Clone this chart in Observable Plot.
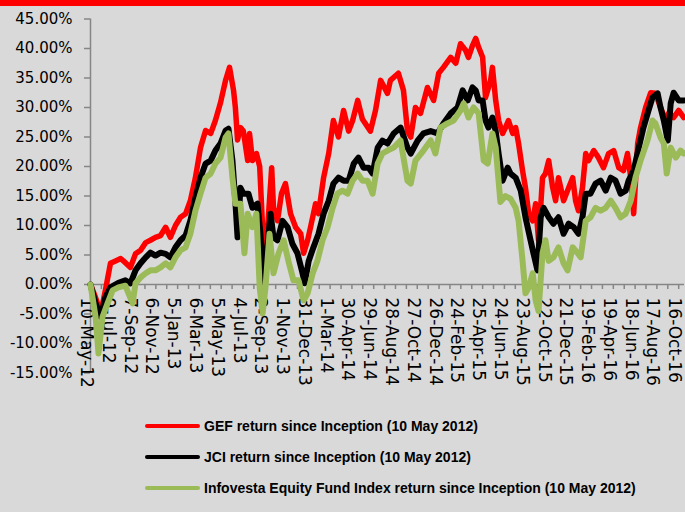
<!DOCTYPE html>
<html>
<head>
<meta charset="utf-8">
<script src="https://cdn.jsdelivr.net/npm/d3@7"></script>
<script src="https://cdn.jsdelivr.net/npm/@observablehq/plot@0.6"></script>
<style>
  html, body { margin: 0; padding: 0; background: #d9d9d9; }
  #wrap { position: relative; width: 685px; height: 512px; overflow: hidden; background: #d9d9d9; }
  #topbar { position: absolute; left: 0; top: 0; width: 685px; height: 6px; background: #ff0000; }
  #chart { position: absolute; left: 0; top: 0; }
  .leg { position: absolute; left: 145px; height: 20px; display: flex; align-items: center;
         font-family: "Liberation Sans", Arial, sans-serif; font-weight: bold; font-size: 14px; color: #000; white-space: nowrap; }
  .sw { width: 55px; height: 4px; border-radius: 2px; margin-right: 4px; }
</style>
</head>
<body>
<div id="wrap">
  <div id="chart"></div>
  <div id="topbar"></div>
  <div id="legend"></div>
</div>
<script>
// ---- Data (days since inception 10 May 2012, return %) ----
const seriesNames = [
  "GEF return since Inception (10 May 2012)",
  "JCI return since Inception (10 May 2012)",
  "Infovesta Equity Fund Index return since Inception (10 May 2012)"
];
const seriesColors = ["#ff0000", "#000000", "#9bbb59"];

const gefSeries = [
  [0,0],[14,-2.2],[28,-4.9],[41,-1],[55,3.6],[69,4],[83,4.4],[96,3.7],[110,2.9],[124,5.2],
  [138,5.8],[152,7.1],[165,7.5],[179,8],[193,8.3],[207,9.7],[220,8],[234,10],[248,11.4],[262,12],
  [275,14.2],[289,18.1],[303,23.2],[317,26.1],[331,25.6],[344,27.8],[358,30.8],[372,34.6],[383,36.8],[394,32.9],
  [399,30],[405,24.5],[413,26.6],[421,26],[433,21],[438,25.6],[446,21],[457,22.2],[466,20],[474,9.7],
  [477,3.6],[488,9.7],[499,19.8],[504,13],[515,10.8],[526,15.4],[537,17.1],[551,12],[565,9.7],[579,8.6],
  [587,5.3],[598,7.5],[606,9.7],[620,13.7],[628,12],[642,18.1],[656,22.2],[669,27.8],[683,25],[697,29.5],
  [711,26],[722,27.8],[736,31.2],[749,28],[771,26],[785,29.5],[799,34.6],[818,32.4],[826,34.6],[848,35.8],
  [862,32.9],[873,26],[882,25],[895,30],[909,29],[928,33.4],[945,31.2],[959,35.8],[972,36.8],[992,38.5],
  [1006,37.5],[1019,40.8],[1033,39.7],[1041,38.5],[1052,40.5],[1061,41.7],[1069,40.2],[1080,38.5],[1088,31.7],[1102,34.6],
  [1107,36.8],[1116,31.2],[1124,27.8],[1135,25.6],[1143,26.6],[1151,27.8],[1163,25.6],[1171,26.6],[1179,23.9],[1190,19.3],
  [1198,16.4],[1207,12],[1218,10.8],[1226,13.7],[1234,7.5],[1245,18.1],[1253,18.8],[1262,21],[1273,16.4],[1281,14.2],
  [1289,18.1],[1303,14.2],[1317,16.4],[1328,18.1],[1336,14.2],[1344,12.5],[1355,16.4],[1364,22.2],[1372,21],[1386,22.7],
  [1399,21.5],[1413,19.8],[1427,22.2],[1441,22.7],[1455,19.8],[1468,19.3],[1479,22.2],[1488,18.1],[1496,12],[1507,23.9],
  [1515,26.6],[1529,30],[1543,32.5],[1556,32.4],[1570,30],[1584,27.8],[1592,29],[1606,28.3],[1620,29.5],[1634,28.3]
];

const jciSeries = [
  [0,0],[14,-3.2],[28,-5.5],[41,-2.2],[55,-0.5],[77,0.3],[96,0.7],[110,0.2],[124,2.4],[138,3.6],
  [152,4.6],[165,5.4],[179,4.9],[193,5.4],[207,5.2],[220,4.6],[234,6.3],[248,7.5],[262,8.3],[275,10.8],
  [289,14.7],[303,18.1],[317,20.5],[331,21],[344,22.7],[358,23.9],[372,26.1],[380,26.4],[391,21],[399,14],
  [405,8],[413,16.4],[421,15.4],[435,15.4],[446,13],[460,13.7],[468,8.6],[477,0.2],[485,5.3],[496,12],
  [504,8],[515,7.5],[529,10.8],[543,9.7],[556,6.9],[570,5.3],[584,1.9],[590,0.2],[601,4],[614,6.3],
  [628,8.6],[642,12],[656,14.2],[669,17.1],[683,18.1],[697,17.6],[711,17.6],[725,20.5],[738,21.5],[752,19.8],
  [766,19.8],[777,18.8],[791,23.2],[804,24.4],[818,23.9],[835,25.6],[854,26.6],[873,23.2],[882,22.2],[901,24.4],
  [917,25.6],[937,26],[956,25.6],[972,27.3],[992,29],[1011,30],[1025,32.9],[1039,31.2],[1052,33.4],[1061,32.9],
  [1069,31.2],[1080,31.2],[1088,27.8],[1096,26.6],[1107,28.3],[1116,26],[1124,22.2],[1135,17.6],[1149,19.8],[1157,18.8],
  [1171,18.1],[1185,15.9],[1198,11.4],[1212,7.5],[1220,5.3],[1231,2.4],[1240,11.4],[1248,13],[1262,11.4],[1275,10.3],
  [1289,11.4],[1303,8.6],[1317,10.3],[1331,9.7],[1344,8.6],[1355,11.4],[1364,15.4],[1377,15.4],[1391,17.1],[1405,17.6],
  [1419,15.9],[1433,18.1],[1446,17.6],[1460,15.4],[1474,15.9],[1482,17.6],[1496,19.3],[1510,23.2],[1523,26.6],[1537,29.5],
  [1548,31.7],[1562,32.4],[1570,30],[1579,27.8],[1590,24.4],[1598,30.7],[1606,32.5],[1620,31.2],[1634,31.2]
];

const infovestaSeries = [
  [0,0],[14,-5.5],[22,-11.7],[33,-5.5],[47,-3.2],[61,-1],[77,-0.5],[96,-0.2],[116,-3.2],[124,0.2],
  [138,1.2],[152,1.9],[165,2.4],[179,2.4],[193,2.9],[207,3.6],[220,2.9],[234,4.6],[248,5.8],[262,6.3],
  [275,8.6],[289,12.5],[303,15.4],[317,18.1],[331,18.8],[344,20.5],[358,21.5],[372,24.9],[380,25.6],[391,18.1],
  [399,13.7],[413,13.7],[424,5.3],[433,12],[446,9.7],[457,12],[466,-0.5],[474,-4.9],[482,-0.5],[493,8.6],
  [504,1.9],[518,5.3],[532,7.5],[545,4],[559,0.7],[573,0.7],[587,-2.7],[598,-1.5],[612,1.9],[625,4],
  [639,7.5],[653,9.7],[667,13],[680,15.4],[694,15.9],[708,15.4],[722,17.6],[736,18.8],[749,17.6],[763,17.6],
  [777,15.4],[791,20.5],[804,22.2],[818,22.7],[835,23.2],[854,24.4],[873,17.6],[882,17.1],[895,21],[917,22.7],
  [937,24.4],[950,22.2],[964,26.6],[983,27.3],[1000,27.8],[1019,29.5],[1028,30.7],[1041,28.3],[1055,30],[1069,29],
  [1083,21],[1094,20.5],[1107,25.6],[1116,23.2],[1129,14],[1143,15],[1157,14.5],[1171,13],[1179,10.8],[1190,4],
  [1198,-1.5],[1207,-0.5],[1218,1.9],[1226,-2.7],[1234,-4.5],[1245,5.3],[1253,7.5],[1262,4],[1275,4.6],[1289,6.3],
  [1303,3.6],[1314,2.4],[1328,6.3],[1342,5.3],[1350,4.6],[1364,10.8],[1377,11.4],[1391,13],[1405,12.5],[1419,13],
  [1433,14.2],[1446,13],[1460,11.4],[1474,12],[1488,14.2],[1501,18.1],[1515,21],[1534,24.4],[1548,27.8],[1556,27.3],
  [1570,24.9],[1579,23.9],[1587,18.8],[1598,23.2],[1612,21.5],[1625,22.7],[1634,22.2]
];

const xTickLabels = [
  "10-May-12","9-Jul-12","7-Sep-12","6-Nov-12","5-Jan-13","6-Mar-13","5-May-13","4-Jul-13",
  "2-Sep-13","1-Nov-13","31-Dec-13","1-Mar-14","30-Apr-14","29-Jun-14","28-Aug-14","27-Oct-14",
  "26-Dec-14","24-Feb-15","25-Apr-15","24-Jun-15","23-Aug-15","22-Oct-15","21-Dec-15","19-Feb-16",
  "19-Apr-16","18-Jun-16","17-Aug-16","16-Oct-16"
];
const yTicks = [-15,-10,-5,0,5,10,15,20,25,30,35,40,45];

// ---- Helpers ----
const inception = Date.UTC(2012, 4, 10);
const toDate = d => new Date(inception + d * 864e5);
const parseLabel = d3.utcParse("%d-%b-%y");
const xTickDates = xTickLabels.map(parseLabel);
const minorTicks = d3.range(0, 1636, 30).map(toDate);
const axisGray = "#868686";

const allSeries = [gefSeries, jciSeries, infovestaSeries];
const widths = [5.5, 6, 6];

const chart = Plot.plot({
  width: 685,
  height: 400,
  marginLeft: 90,
  marginRight: 1,
  marginTop: 18.5,
  marginBottom: 27.5,
  style: { background: "transparent", fontFamily: "DejaVu Sans", overflow: "visible" },
  x: { type: "utc", domain: [toDate(0), toDate(1636)], axis: null },
  y: { domain: [-15, 45], axis: null },
  marks: [
    // y axis line and ticks
    Plot.ruleX([toDate(0)], { stroke: axisGray, strokeWidth: 1.5 }),
    Plot.ruleY(yTicks, { y: d => d, x1: () => toDate(0), x2: () => toDate(0), insetLeft: -6, stroke: axisGray, strokeWidth: 1.5 }),
    Plot.text(yTicks, { x: () => toDate(0), y: d => d, text: d => d.toFixed(2) + "%", textAnchor: "end", dx: -18, fontSize: 15, fill: "#000" }),
    // x axis at 0 with ticks and rotated labels
    Plot.ruleY([0], { stroke: axisGray, strokeWidth: 1.5 }),
    Plot.ruleX(minorTicks, { x: d => d, y1: () => 0, y2: () => 0, insetBottom: -5, stroke: axisGray, strokeWidth: 1.5 }),
    Plot.text(xTickDates, { x: d => d, y: () => 0, text: (d, i) => xTickLabels[i], rotate: 90, textAnchor: "start", dy: 13, dx: -4, fontSize: 17, fill: "#000" }),
    // series
    ...allSeries.map((s, k) => Plot.line(s, {
      x: d => toDate(d[0]), y: d => d[1], stroke: seriesColors[k], strokeWidth: widths[k], strokeLinejoin: "round"
    }))
  ]
});
document.getElementById("chart").appendChild(chart);

// ---- Legend ----
const legend = document.getElementById("legend");
const legendY = [416, 447, 478];
seriesNames.forEach((name, i) => {
  const row = document.createElement("div");
  row.className = "leg";
  row.style.top = legendY[i] + "px";
  const sw = document.createElement("div");
  sw.className = "sw";
  sw.style.background = seriesColors[i];
  const t = document.createElement("span");
  t.textContent = name;
  row.appendChild(sw);
  row.appendChild(t);
  legend.appendChild(row);
});
</script>
</body>
</html>
